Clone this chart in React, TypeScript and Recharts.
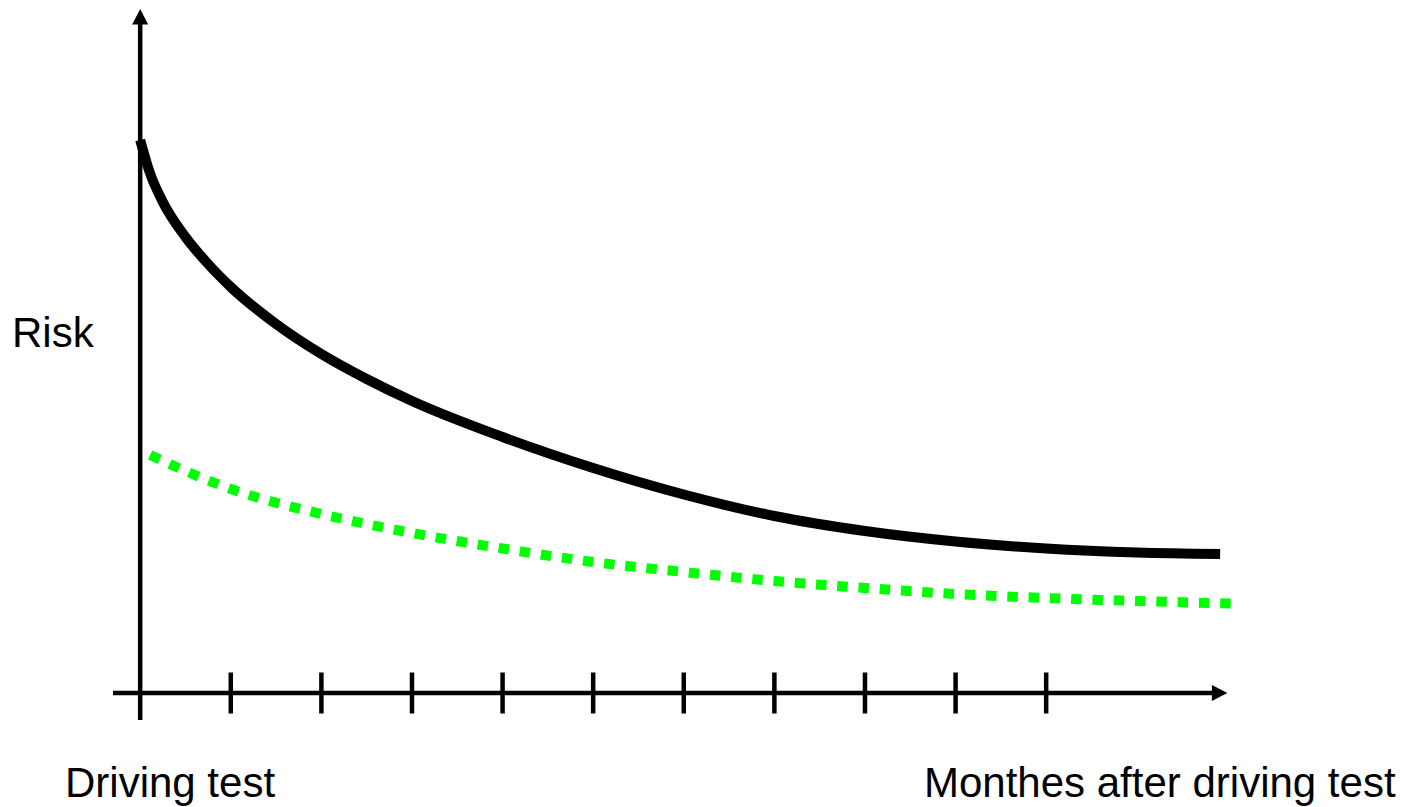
import React from "react";
import { LineChart, Line, XAxis, YAxis, ReferenceLine } from "recharts";

// months after the test (x) and relative risk (y)
const experiencedMonths = [0, 0.1, 0.25, 0.5, 0.75, 1, 1.5, 2, 2.5, 3, 4, 5, 6, 7, 8, 9, 10, 11, 11.92];
const experiencedRisk = [55.3, 52.2, 49.1, 45.6, 42.9, 40.6, 36.9, 33.9, 31.4, 29.2, 25.6, 22.5, 19.85, 17.7, 16.2, 15.15, 14.45, 14.05, 13.9];

const trainedMonths = [0.11, 0.5, 1, 2, 3, 4, 5, 6, 7, 8, 9, 10, 11, 12.08];
const trainedRisk = [23.8, 22.2, 20.4, 17.9, 16.0, 14.45, 13.1, 12.1, 11.2, 10.5, 9.9, 9.5, 9.2, 8.95];

const monthTicks = [1, 2, 3, 4, 5, 6, 7, 8, 9, 10];

const xDomain: [number, number] = [-0.3, 12.2];
const yDomain: [number, number] = [0, 68.4];

const solidData = experiencedMonths.map((m, i) => ({ month: m, risk: experiencedRisk[i] }));
const dottedData = trainedMonths.map((m, i) => ({ month: m, risk: trainedRisk[i] }));

const FONT = '"Liberation Sans", Arial, sans-serif';

function CrossTick(props: any) {
  const { x, y } = props;
  return <line x1={x} y1={y - 20.5} x2={x} y2={y + 20.5} stroke="#000" strokeWidth={4.5} />;
}

// axis line with a filled arrow head at (x2, y2)
function ArrowLine(props: any) {
  const { x1, y1, x2, y2 } = props;
  const dx = x2 - x1;
  const dy = y2 - y1;
  const len = Math.sqrt(dx * dx + dy * dy) || 1;
  const ux = dx / len;
  const uy = dy / len;
  const head = 15.5;
  const half = 8;
  const bx = x2 - ux * head;
  const by = y2 - uy * head;
  const nx = -uy;
  const ny = ux;
  return (
    <g>
      <line x1={x1} y1={y1} x2={bx + ux} y2={by + uy} stroke="#000" strokeWidth={4.5} />
      <polygon
        points={`${x2},${y2} ${bx + nx * half},${by + ny * half} ${bx - nx * half},${by - ny * half}`}
        fill="#000"
      />
    </g>
  );
}

const labelStyle: React.CSSProperties = {
  position: "absolute",
  fontFamily: FONT,
  fontSize: 42,
  lineHeight: "42px",
  color: "#000",
  whiteSpace: "nowrap",
};

export default function App() {
  return (
    <div style={{ position: "absolute", left: 0, top: 0, width: 1410, height: 807, background: "#fff" }}>
      <LineChart
        width={1410}
        height={807}
        margin={{ top: 9, right: 164.5, bottom: 84, left: 113 }}
      >
        <XAxis
          type="number"
          dataKey="month"
          domain={xDomain}
          ticks={monthTicks}
          allowDataOverflow
          axisLine={false}
          tickLine={false}
          tickSize={0}
          tickMargin={0}
          height={30}
          interval={0}
          tick={<CrossTick />}
        />
        <YAxis type="number" dataKey="risk" domain={yDomain} allowDataOverflow hide width={0} />
        <ReferenceLine
          segment={[{ x: -0.3, y: 0 }, { x: 12, y: 0 }]}
          ifOverflow="visible"
          shape={ArrowLine}
        />
        <ReferenceLine
          segment={[{ x: 0, y: -2.7 }, { x: 0, y: 68.4 }]}
          ifOverflow="visible"
          shape={ArrowLine}
        />
        <Line
          data={dottedData}
          dataKey="risk"
          type="monotone"
          stroke="#00ff00"
          strokeWidth={10}
          strokeDasharray="10.5 10.8"
          dot={false}
          activeDot={false}
          isAnimationActive={false}
        />
        <Line
          data={solidData}
          dataKey="risk"
          type="monotone"
          stroke="#000"
          strokeWidth={10}
          dot={false}
          activeDot={false}
          isAnimationActive={false}
        />
      </LineChart>
      <div style={{ ...labelStyle, left: 12, top: 311.5 }}>Risk</div>
      <div style={{ ...labelStyle, left: 65, top: 762 }}>Driving test</div>
      <div style={{ ...labelStyle, left: 924, top: 762 }}>Monthes after driving test</div>
    </div>
  );
}
